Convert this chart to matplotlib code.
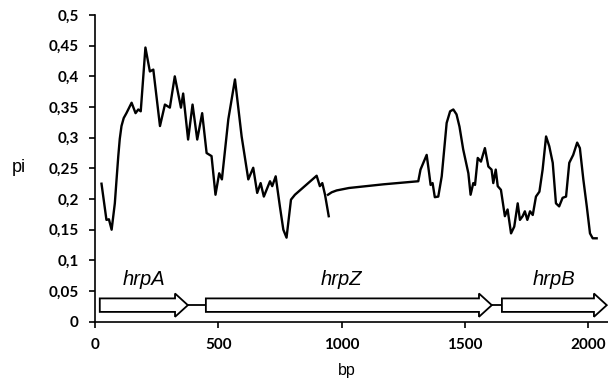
import numpy as np
import matplotlib
matplotlib.use("Agg")
import matplotlib.pyplot as plt
from matplotlib.patches import Polygon
from matplotlib.ticker import FuncFormatter

# nucleotide diversity (pi) along the hrp region
bp_1 = [27, 47, 57, 68, 81, 88, 95, 101, 108, 117, 128, 149, 165, 176, 186,
        205, 223, 237, 264, 284, 304, 324, 349, 358, 378, 396, 415, 435, 453,
        473, 489, 504, 515, 541, 568, 595, 622, 642, 658, 672, 685, 710, 719,
        733, 750, 764, 777, 795, 811, 899, 912, 922, 933, 948]
pi_1 = [0.225, 0.166, 0.167, 0.150, 0.193, 0.232, 0.270, 0.298, 0.319, 0.332,
        0.340, 0.357, 0.340, 0.346, 0.343, 0.447, 0.408, 0.411, 0.319, 0.354,
        0.349, 0.400, 0.349, 0.372, 0.297, 0.354, 0.297, 0.340, 0.275, 0.270,
        0.207, 0.242, 0.232, 0.330, 0.395, 0.302, 0.232, 0.251, 0.210, 0.226,
        0.204, 0.229, 0.221, 0.237, 0.188, 0.150, 0.137, 0.199, 0.207, 0.238,
        0.221, 0.226, 0.207, 0.172]

bp_2 = [945, 960, 980, 1030, 1170, 1311, 1320, 1345, 1355, 1361, 1369, 1378,
        1392, 1406, 1426, 1440, 1453, 1466, 1478, 1493, 1514, 1523, 1534, 1541,
        1552, 1565, 1581, 1595, 1608, 1615, 1625, 1633, 1646, 1662, 1673, 1687,
        1700, 1714, 1723, 1734, 1743, 1753, 1764, 1775, 1788, 1802, 1815, 1829,
        1842, 1856, 1869, 1882, 1896, 1910, 1923, 1939, 1955, 1966, 1980, 1994,
        2007, 2018, 2034]
pi_2 = [0.207, 0.211, 0.214, 0.218, 0.224, 0.229, 0.248, 0.272, 0.242, 0.223,
        0.226, 0.203, 0.204, 0.237, 0.324, 0.343, 0.346, 0.338, 0.318, 0.281,
        0.242, 0.207, 0.226, 0.223, 0.267, 0.261, 0.283, 0.253, 0.248, 0.226,
        0.248, 0.221, 0.215, 0.172, 0.183, 0.144, 0.155, 0.193, 0.166, 0.172,
        0.180, 0.166, 0.180, 0.174, 0.204, 0.212, 0.248, 0.302, 0.286, 0.259,
        0.193, 0.188, 0.202, 0.204, 0.259, 0.272, 0.292, 0.283, 0.232, 0.188,
        0.144, 0.136, 0.136]

genes = ["hrpA", "hrpZ", "hrpB"]
gene_start = [20, 450, 1650]
gene_end = [377, 1609, 2075]

fig = plt.figure(figsize=(6.08, 3.81), dpi=100)
ax = fig.add_axes([0.156, 0.1556, 0.844, 0.805])

ax.plot(bp_1, pi_1, color="black", lw=1.7, solid_joinstyle="round")
ax.plot(bp_2, pi_2, color="black", lw=1.7, solid_joinstyle="round")

# gene arrows
yc = 0.027
body = 0.011
head = 0.019
head_len = 52
for i, name in enumerate(genes):
    s, e = gene_start[i], gene_end[i]
    pts = [(s, yc - body), (e - head_len, yc - body), (e - head_len, yc - head),
           (e, yc), (e - head_len, yc + head), (e - head_len, yc + body),
           (s, yc + body)]
    ax.add_patch(Polygon(pts, closed=True, facecolor="white", edgecolor="black",
                         lw=1.3, clip_on=False, zorder=3))
    ax.text((s + e) / 2 - (30 if name == "hrpZ" else 0), 0.054, name,
            ha="center", va="bottom", style="italic", fontsize=14.5,
            family="Liberation Sans")
    if i + 1 < len(genes):
        ax.plot([e, gene_start[i + 1]], [yc, yc], color="black", lw=1.3)

ax.set_xlim(0, 2080)
ax.set_ylim(0, 0.5)
ax.set_xticks([0, 500, 1000, 1500, 2000])
ax.set_yticks(np.arange(0, 0.51, 0.05))
ax.yaxis.set_major_formatter(FuncFormatter(lambda v, p: ("%g" % round(v, 2)).replace(".", ",")))

for side in ["top", "right"]:
    ax.spines[side].set_visible(False)
for side in ["left", "bottom"]:
    ax.spines[side].set_linewidth(1.2)
ax.tick_params(direction="out", length=4.5, width=1.2, pad=7)
for lab in ax.get_xticklabels() + ax.get_yticklabels():
    lab.set_family("Lato")
    lab.set_fontweight("bold")
    lab.set_fontsize(11)

fig.text(12 / 608, 1 - 167 / 381, "pi", fontsize=13, va="center", ha="left",
         family="Liberation Sans")
fig.text(347 / 608, 1 - 370 / 381, "bp", fontsize=11.5, va="center", ha="center",
         family="Liberation Sans")

fig.savefig("out.png", dpi=100)
